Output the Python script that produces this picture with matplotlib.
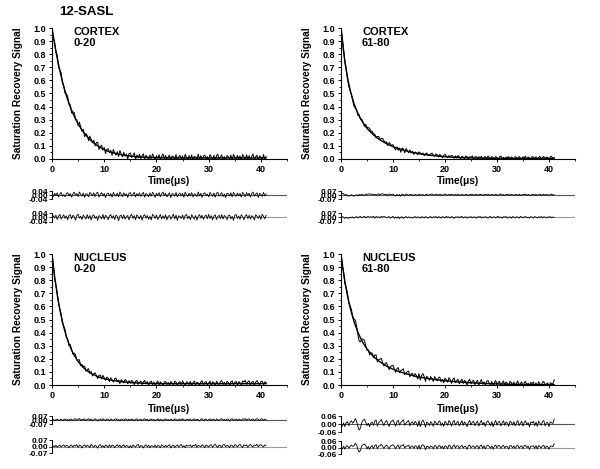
import numpy as np
import matplotlib
matplotlib.use("Agg")
import matplotlib.pyplot as plt
from matplotlib.ticker import MultipleLocator, FormatStrFormatter

plt.rcParams['font.family'] = ['Liberation Sans', 'DejaVu Sans']
plt.rcParams['font.weight'] = 'bold'

# sampling times, 0.25 us apart from 0 to 41 us
time_us = np.arange(165) * 0.25

# fitted recovery curves (x 1e-3)
cortex_0_20_fit = [
    1000, 936, 877, 821, 769, 720, 674, 631, 591, 553,
    518, 485, 454, 425, 398, 373, 349, 327, 306, 287,
    269, 252, 236, 221, 207, 194, 181, 170, 159, 149,
    139, 130, 122, 114, 107, 100, 94, 88, 82, 77,
    72, 68, 63, 59, 56, 53, 50, 47, 44, 41,
    39, 37, 35, 33, 31, 29, 28, 26, 25, 23,
    22, 21, 20, 19, 18, 17, 16, 15, 15, 14,
    14, 13, 13, 12, 12, 11, 11, 11, 10, 10,
    10, 10, 9, 9, 9, 9, 9, 9, 9, 8,
    8, 8, 8, 8, 8, 8, 8, 8, 8, 8,
    8, 8, 8, 8, 8, 8, 8, 8, 8, 8,
    8, 8, 8, 8, 8, 8, 8, 8, 8, 8,
    8, 8, 8, 8, 8, 8, 8, 8, 8, 8,
    8, 8, 8, 8, 8, 8, 8, 8, 8, 8,
    8, 8, 8, 8, 8, 8, 8, 8, 8, 8,
    8, 8, 8, 8, 8, 8, 8, 8, 8, 8,
    8, 8, 8, 8, 8]
cortex_61_80_fit = [
    1000, 903, 818, 744, 680, 623, 573, 529, 490, 456,
    423, 396, 371, 348, 328, 308, 291, 276, 261, 247,
    235, 223, 213, 203, 193, 184, 176, 168, 160, 153,
    146, 140, 134, 128, 123, 117, 112, 108, 103, 99,
    94, 90, 87, 83, 80, 76, 73, 70, 67, 65,
    62, 60, 57, 55, 52, 50, 48, 46, 44, 43,
    41, 39, 38, 36, 35, 33, 32, 31, 29, 28,
    27, 26, 25, 24, 23, 22, 21, 20, 19, 18,
    18, 17, 16, 16, 15, 14, 14, 13, 12, 12,
    11, 11, 10, 10, 10, 9, 9, 9, 9, 8,
    8, 8, 8, 7, 7, 7, 7, 7, 6, 6,
    6, 6, 6, 6, 6, 6, 6, 5, 5, 5,
    5, 5, 5, 5, 5, 5, 5, 5, 5, 5,
    5, 5, 5, 5, 5, 5, 5, 5, 5, 5,
    5, 5, 5, 5, 5, 5, 5, 5, 5, 5,
    5, 5, 5, 5, 5, 5, 5, 5, 5, 5,
    5, 5, 5, 5, 5]
nucleus_0_20_fit = [
    1000, 911, 830, 757, 690, 631, 576, 527, 483, 442,
    405, 371, 342, 314, 289, 266, 246, 227, 210, 194,
    179, 167, 154, 144, 133, 124, 116, 108, 101, 94,
    88, 83, 78, 73, 69, 65, 61, 58, 54, 52,
    49, 46, 44, 42, 40, 38, 36, 34, 33, 31,
    30, 28, 27, 25, 24, 23, 22, 21, 20, 19,
    19, 18, 17, 17, 16, 16, 15, 15, 14, 14,
    13, 13, 13, 12, 12, 12, 12, 11, 11, 11,
    11, 11, 11, 10, 10, 10, 10, 10, 10, 10,
    10, 10, 10, 10, 10, 10, 10, 10, 10, 10,
    10, 10, 10, 10, 10, 10, 10, 10, 10, 10,
    10, 10, 10, 10, 10, 10, 10, 10, 10, 10,
    10, 10, 10, 10, 10, 10, 10, 10, 10, 10,
    10, 10, 10, 10, 10, 10, 10, 10, 10, 10,
    10, 10, 10, 10, 10, 10, 10, 10, 10, 10,
    10, 10, 10, 10, 10, 10, 10, 10, 10, 10,
    10, 10, 10, 10, 10]
nucleus_61_80_fit = [
    1000, 924, 854, 791, 734, 682, 636, 592, 553, 518,
    485, 455, 429, 403, 380, 359, 340, 322, 306, 290,
    276, 262, 250, 239, 228, 218, 208, 200, 192, 183,
    177, 170, 163, 157, 151, 145, 140, 135, 130, 125,
    121, 117, 113, 108, 105, 102, 98, 95, 92, 89,
    86, 83, 81, 77, 75, 73, 70, 67, 65, 63,
    61, 59, 58, 56, 54, 52, 51, 49, 48, 46,
    45, 43, 42, 41, 39, 38, 37, 36, 35, 34,
    33, 32, 31, 30, 29, 28, 27, 26, 25, 24,
    24, 23, 22, 21, 21, 20, 19, 19, 18, 18,
    17, 16, 16, 15, 15, 14, 14, 13, 13, 12,
    12, 12, 11, 11, 10, 10, 10, 9, 9, 9,
    8, 8, 8, 8, 7, 7, 7, 7, 6, 6,
    6, 6, 6, 5, 5, 5, 5, 5, 5, 4,
    4, 4, 4, 4, 4, 4, 4, 3, 3, 3,
    3, 3, 3, 3, 3, 3, 3, 3, 3, 3,
    3, 2, 2, 2, 2]

# residuals of the two fits (x 1e-3)
cortex_0_20_res1 = [
    0, -14, 18, -6, 22, -20, 8, 26, -12, 4, -18, 12, 24, -8, 16,
    -22, 10, 28, -4, 14, -16, 30, 6, -10, 20, -24, 14, 8, -18, 26,
    12, -6, 22, -14, 18, 28, -20, 6, 24, -10, 16, -26, 10, 20, -8,
    14, -22, 26, 4, -12, 18, -18, 30, 8, -16, 22, -6, 12, -24, 18,
    24, -10, 6, 28, -20, 14, -8, 22, -14, 10, 26, -22, 16, 4, -18,
    20, -12, 28, 8, -24, 16, -6, 24, -16, 12, 30, -8, 18, -20, 6,
    22, -26, 14, 10, -12, 26, -18, 8, 20, -10, 16, -22, 28, 4, -14,
    18, -8, 24, -20, 12, 6, -16, 30, -10, 18, -24, 14, 22, -6, 10,
    -18, 26, 8, -14, 20, -22, 16, 28, -12, 6, 24, -16, 10, -26, 18,
    12, -10, 22, -18, 28, 4, -14, 20, -8, 16, -22, 26, 10, -16, 24,
    -6, 18, -20, 14, 30, -12, 8, 22, -24, 16, 6, -14, 26, -10, 12]
cortex_0_20_res2 = [
    -10, 16, -4, 22, -18, 10, 28, -14, 6, 24, -8, 14, -20, 18, 26,
    -12, 20, 8, -24, 16, 30, -6, 12, -18, 22, 4, -14, 26, -10, 18,
    -22, 14, 24, -8, 10, -26, 18, 6, -12, 28, -16, 20, 8, -20, 14,
    26, -6, 16, -18, 22, 10, -28, 14, 20, -10, 24, -14, 6, 18, -22,
    12, 30, -8, 16, -20, 24, 8, -12, 20, -24, 14, 26, -6, 18, -16,
    10, -22, 28, 14, -8, 22, -18, 6, 26, -14, 16, -10, 24, -20, 12,
    18, -16, 8, 30, -12, 20, -26, 14, 10, -8, 22, -18, 16, 28, -10,
    14, -20, 24, 6, -14, 18, -24, 12, 26, -6, 20, -16, 10, 22, -12,
    28, -8, 16, -22, 12, 24, -18, 8, 20, -10, 26, -14, 18, 6, -20,
    16, 22, -12, 10, -26, 18, 28, -8, 14, -16, 24, 8, -20, 12, 26,
    -10, 20, -14, 16, 6, -22, 24, 12, -8, 18, -16, 28, 10, -12, 20]
cortex_61_80_res1 = [
    18, 28, 22, -6, 10, -14, -18, -10, 4, -12, -20, -8, 6, -16, 10,
    -6, 14, 4, -12, 18, 8, 16, 22, 10, 18, 6, 14, -8, 12, 20,
    4, 16, 24, 10, 6, 14, -10, 18, 12, 4, 16, -6, -18, 10, -14,
    8, -22, 14, 10, -18, 18, 6, -10, 14, -6, 10, -14, 8, 4, -10,
    14, 6, -4, 10, -10, 6, 14, -6, 4, 10, 18, 6, -4, 14, 10,
    -6, 14, 4, -10, 10, 18, 6, -6, 10, 2, 14, 8, -8, 12, -4,
    16, 6, -10, 12, 4, -6, 14, 8, -12, 10, 4, 16, -6, 8, 12,
    -8, 10, 4, 14, -10, 6, 12, -4, 16, 8, -10, 12, 6, -6, 14,
    4, -8, 12, 18, -4, 8, -12, 10, 6, 14, -6, 10, 4, -10, 12,
    8, -6, 14, 4, -10, 12, 6, 16, -8, 10, 2, -12, 14, 8, -4,
    12, -8, 6, 16, -10, 8, 14, -6, 10, 4, -8, 12, 16, -4, 6]
cortex_61_80_res2 = [
    14, 10, 6, -14, 4, -8, -12, 6, -6, 10, -10, 4, 14, -8, 10,
    16, -4, 8, 18, -6, 10, 14, 4, 10, 6, 18, -10, 14, 6, 10,
    -6, 18, 6, 14, 10, -4, 6, 14, -10, 4, 18, -14, 8, -10, 14,
    -18, 6, 10, -14, 4, 14, -6, 10, -4, 6, -10, 4, 14, -6, 10,
    4, -10, 12, 6, -8, 14, 4, -10, 6, 14, -6, 10, 4, 16, -8,
    12, 6, -10, 14, 4, -6, 18, 2, 10, -8, 14, 6, -12, 8, 4,
    14, -6, 10, 16, -8, 6, 12, -10, 8, 4, 14, -6, 10, 6, -10,
    12, 4, 16, -8, 10, -4, 14, 6, -12, 8, 16, -6, 4, 12, -8,
    10, 18, -4, 8, -10, 12, 6, 16, -8, 4, 10, -12, 14, 6, -6,
    12, 4, -10, 16, 8, -6, 10, 14, -4, 6, -10, 12, 8, -8, 14,
    6, -6, 10, 4, 16, -8, 12, 6, -10, 10, 4, 14, -6, 8, 2]
nucleus_0_20_res1 = [
    -8, 12, -16, 6, 14, -10, 4, 16, -12, 8, 18, -6, 10, -14, 20,
    6, -10, 16, 22, -4, 12, 26, -8, 14, 6, 20, -12, 10, 24, -6,
    16, -14, 8, 20, 4, -16, 12, 18, -8, 22, 6, -10, 16, 10, -14,
    18, 4, -12, 14, 22, -6, 10, -16, 16, 6, -8, 20, 12, -10, 14,
    -6, 18, 8, -14, 12, 20, -10, 6, 16, -12, 10, 22, -4, 14, -16,
    8, 18, -8, 12, -14, 6, 20, -10, 14, 4, -16, 12, 18, -6, 10,
    -12, 16, 6, -10, 20, 12, -14, 8, 16, -8, 22, 4, -12, 14, 10,
    -6, 18, -14, 8, 20, -10, 12, 6, -16, 14, 22, -8, 10, 16, -12,
    6, 20, -10, 14, 8, -14, 18, 4, -8, 16, 24, -6, 12, -12, 18,
    10, -16, 14, 22, -6, 8, 18, -12, 16, 6, -10, 20, 12, 26, -4,
    14, 22, -8, 10, 18, -14, 12, 24, 6, -10, 16, 20, -6, 14, 8]
nucleus_0_20_res2 = [
    -12, 8, -6, 14, -10, 4, 16, -8, 10, 18, -4, 12, 6, -14, 10,
    16, -6, 12, 4, 20, -10, 14, 8, -16, 10, 18, -4, 14, 6, -12,
    22, 8, -8, 14, 4, -18, 12, 20, -6, 10, -12, 16, 6, -10, 18,
    -8, 14, 10, -14, 6, 20, -4, 16, -12, 8, 18, -6, 12, 4, -14,
    10, -12, 16, 6, -8, 14, 22, -10, 12, 4, -16, 10, 18, -6, 14,
    -14, 10, 4, -6, 16, -12, 12, 6, -14, 18, 8, -8, 14, -4, 10,
    20, -16, 8, 14, -10, 6, 16, -8, 12, 22, -6, 10, -12, 16, 4,
    8, 18, -8, 14, 4, 24, -10, 12, 6, -4, 18, 10, -12, 16, 6,
    -6, 14, 20, -8, 10, 26, 4, -10, 16, 8, -12, 18, 22, -4, 12,
    6, -14, 16, 10, -8, 20, 14, -6, 12, 24, 4, -10, 18, 8, 16,
    -8, 12, 22, 6, -6, 16, 10, 24, -4, 14, 20, 8, -6, 18, 12]
nucleus_61_80_res1 = [
    12, -16, 8, -20, 10, 18, -12, 14, 24, 6, 20, 40, 22, -18, -46,
    -30, 12, 28, 36, 14, -12, 6, -20, 8, 14, -10, 22, 30, -16, 10,
    20, 34, 8, -12, 14, 26, 4, -18, 10, 22, 30, 6, -16, 16, 28,
    -8, 12, 20, 32, -10, 6, 18, 26, -14, 10, 16, -6, 20, 8, -18,
    26, -20, 14, 30, 10, -24, 16, 6, -12, 18, 4, -16, 22, 10, -8,
    16, 24, -12, 8, -18, 20, 6, -10, 26, 12, -16, 14, 28, -8, 10,
    20, -14, 6, 24, -10, 16, 4, -20, 12, 26, -8, 14, 20, -12, 8,
    22, -16, 10, 28, -6, 12, -18, 16, 24, 6, -12, 18, -20, 10, 26,
    -8, 14, 20, -14, 8, 24, -10, 16, 6, -18, 22, 12, -8, 18, -14,
    10, 26, -12, 6, 20, -16, 14, 24, -6, 10, -22, 16, 8, 20, -12,
    14, -18, 22, 6, -10, 18, 26, -14, 8, 12, -20, 16, 10, 4, 38]
nucleus_61_80_res2 = [
    8, -12, 12, -16, 14, 16, -8, 10, 22, 10, 16, 38, 24, -20, -42,
    -26, 16, 26, 32, 18, -14, 10, -16, 6, 18, -12, 20, 26, -12, 14,
    16, 30, 12, -8, 10, 22, 8, -14, 14, 18, 26, 10, -12, 12, 24,
    -10, 16, 16, 28, -6, 10, 14, 22, -10, 14, 12, -8, 16, 12, -14,
    22, -16, 18, 26, 14, -20, 12, 10, -8, 14, 8, -12, 18, 14, -10,
    12, 20, -8, 12, -14, 16, 10, -12, 22, 16, -12, 10, 24, -4, 14,
    16, -10, 10, 20, -6, 12, 8, -16, 16, 22, -4, 10, 16, -8, 12,
    18, -12, 14, 24, -8, 16, -14, 12, 20, 10, -8, 14, -16, 14, 22,
    -4, 18, 16, -10, 12, 20, -6, 12, 10, -14, 18, 16, -4, 14, -10,
    14, 22, -8, 10, 16, -12, 18, 20, -2, 14, -18, 12, 12, 16, -8,
    18, -14, 18, 10, -6, 14, 22, -10, 12, 8, -16, 12, 14, 8, 34]

W, H = 600, 469


def box(l, t, r, b):
    return [l / W, 1 - b / H, (r - l) / W, (b - t) / H]


panels = [
    dict(name="CORTEX\n0-20", fit=cortex_0_20_fit, res=(cortex_0_20_res1, cortex_0_20_res2),
         lim=0.04, main=(52, 28, 287, 159), r1=(191, 199), r2=(213, 222), tlab=181),
    dict(name="CORTEX\n61-80", fit=cortex_61_80_fit, res=(cortex_61_80_res1, cortex_61_80_res2),
         lim=0.07, main=(341, 28, 575, 159), r1=(191, 199), r2=(213, 222), tlab=181),
    dict(name="NUCLEUS\n0-20", fit=nucleus_0_20_fit, res=(nucleus_0_20_res1, nucleus_0_20_res2),
         lim=0.07, main=(52, 254, 287, 385), r1=(416, 424), r2=(440, 453), tlab=409),
    dict(name="NUCLEUS\n61-80", fit=nucleus_61_80_fit, res=(nucleus_61_80_res1, nucleus_61_80_res2),
         lim=0.06, main=(341, 254, 575, 385), r1=(416, 432), r2=(441, 454), tlab=409),
]

fig = plt.figure(figsize=(6, 4.69), dpi=100)
fig.text(86 / W, 1 - 12 / H, "12-SASL", ha="center", va="center", fontsize=9.5, fontweight="bold")

for p in panels:
    l, t, r, b = p["main"]
    fit = np.array(p["fit"]) / 1000.0
    res1 = np.array(p["res"][0]) / 1000.0
    res2 = np.array(p["res"][1]) / 1000.0
    data = fit + res1

    ax = fig.add_axes(box(l, t, r, b))
    ax.plot(time_us, data, color="black", lw=0.7)
    ax.plot(time_us, fit, color="black", lw=1.0)
    ax.set_xlim(0, 45)
    ax.set_ylim(0, 1.0)
    for s in ("top", "right"):
        ax.spines[s].set_visible(False)
    for s in ("left", "bottom"):
        ax.spines[s].set_linewidth(0.8)
    ax.xaxis.set_major_locator(MultipleLocator(10))
    ax.xaxis.set_minor_locator(MultipleLocator(5))
    ax.yaxis.set_major_locator(MultipleLocator(0.1))
    ax.yaxis.set_minor_locator(MultipleLocator(0.05))
    ax.yaxis.set_major_formatter(FormatStrFormatter("%.1f"))
    ax.tick_params(which="major", direction="out", length=2.5, width=0.7, labelsize=6.5, pad=1.5)
    ax.tick_params(which="minor", direction="out", length=1.5, width=0.6)
    ax.set_ylabel("Saturation Recovery Signal", fontsize=7.3, fontweight="bold")
    ax.yaxis.set_label_coords(-0.125, 0.5)
    fig.text(l / W + 21 / W, 1 - 27 / H - (t - 28) / H, p["name"], ha="left", va="top",
             fontsize=8, fontweight="bold", linespacing=1.1)
    fig.text((l + r) / 2 / W, 1 - p["tlab"] / H, "Time(\u03bcs)", ha="center", va="center",
             fontsize=7.3, fontweight="bold")

    for (rt, rb), res, zc in ((p["r1"], res1, "#555555"), (p["r2"], res2, "#999999")):
        rax = fig.add_axes(box(l, rt, r, rb))
        rax.axhline(0, color=zc, lw=0.8)
        rax.plot(time_us, res, color="black", lw=0.6)
        rax.set_xlim(0, 45)
        rax.set_ylim(-p["lim"], p["lim"])
        for s in ("top", "right", "bottom"):
            rax.spines[s].set_visible(False)
        rax.spines["left"].set_linewidth(0.7)
        rax.set_xticks([])
        rax.set_yticks([-p["lim"], 0, p["lim"]])
        rax.yaxis.set_major_formatter(FormatStrFormatter("%.2f"))
        rax.tick_params(direction="out", length=2, width=0.6, labelsize=6, pad=1)
        rax.patch.set_alpha(0)

fig.savefig("out.png", dpi=100)
